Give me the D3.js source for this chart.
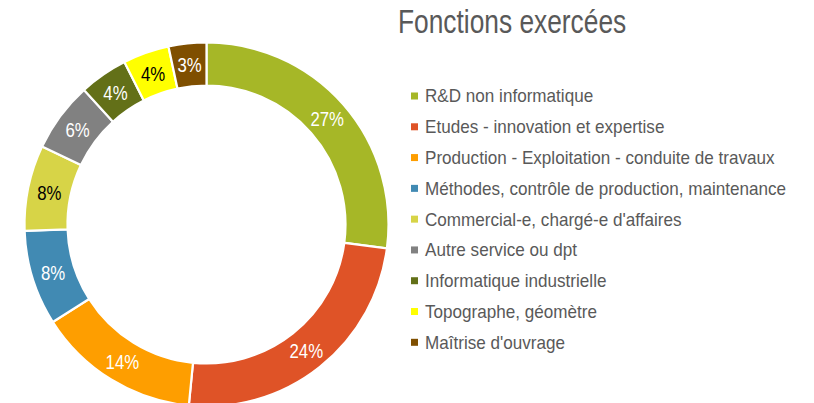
<!DOCTYPE html>
<html><head><meta charset="utf-8">
<script src="https://cdn.jsdelivr.net/npm/d3@7"></script>
<style>
html,body{margin:0;padding:0;background:#fff;}
svg{display:block;font-family:"Liberation Sans",Arial,sans-serif;}
</style></head>
<body><svg id="chart" width="814" height="403"></svg>
<script>
const title = "Fonctions exercées";
const categories = [
  "R&D non informatique",
  "Etudes - innovation et expertise",
  "Production - Exploitation - conduite de travaux",
  "Méthodes, contrôle de production, maintenance",
  "Commercial-e, chargé-e d'affaires",
  "Autre service ou dpt",
  "Informatique industrielle",
  "Topographe, géomètre",
  "Maîtrise d'ouvrage"
];
const values = [27.1, 24.45, 14.45, 8.45, 7.6, 6.2, 4.3, 4.1, 3.35];
const colors = ["#A6B727","#DF5327","#FE9E00","#418AB3","#D7D447","#818181","#637018","#FFFF00","#7F4F00"];
const labelColors = ["#fff","#fff","#fff","#fff","#000","#fff","#fff","#000","#fff"];

const svg = d3.select("#chart");
const cx = 206.5, cy = 224.5, rOuter = 182, rInner = 139;

const data = categories.map((c,i)=>({name:c, value:values[i], color:colors[i], lc:labelColors[i]}));
const pie = d3.pie().value(d=>d.value).sort(null);
const arc = d3.arc().innerRadius(rInner).outerRadius(rOuter);
const g = svg.append("g").attr("transform",`translate(${cx},${cy})`);
const arcs = pie(data);
g.selectAll("path").data(arcs).join("path")
  .attr("d",arc).attr("fill",d=>d.data.color)
  .attr("stroke","#fff").attr("stroke-width",2.2);
g.selectAll("text").data(arcs).join("text")
  .attr("transform",d=>`translate(${arc.centroid(d)}) scale(0.8,1)`)
  .attr("text-anchor","middle").attr("dy","0.36em")
  .attr("font-size",21).attr("fill",d=>d.data.lc)
  .text(d=>d3.format(".0f")(d.data.value)+"%");

svg.append("text").attr("transform",`translate(398,33.3) scale(0.81,1)`).attr("font-size",32.5)
  .attr("fill","#595959").text(title);

const leg = svg.append("g");
const rowY = d3.scaleLinear().domain([0,8]).range([96,342.3]);
const items = leg.selectAll("g").data(data).join("g")
  .attr("transform",(d,i)=>`translate(411,${rowY(i)})`);
items.append("rect").attr("x",0).attr("y",-3.5).attr("width",7).attr("height",7).attr("fill",d=>d.color);
items.append("text").attr("transform",`translate(14,0) scale(0.95,1)`).attr("dy","0.36em").attr("font-size",18)
  .attr("fill","#595959").text(d=>d.name);
</script></body></html>
